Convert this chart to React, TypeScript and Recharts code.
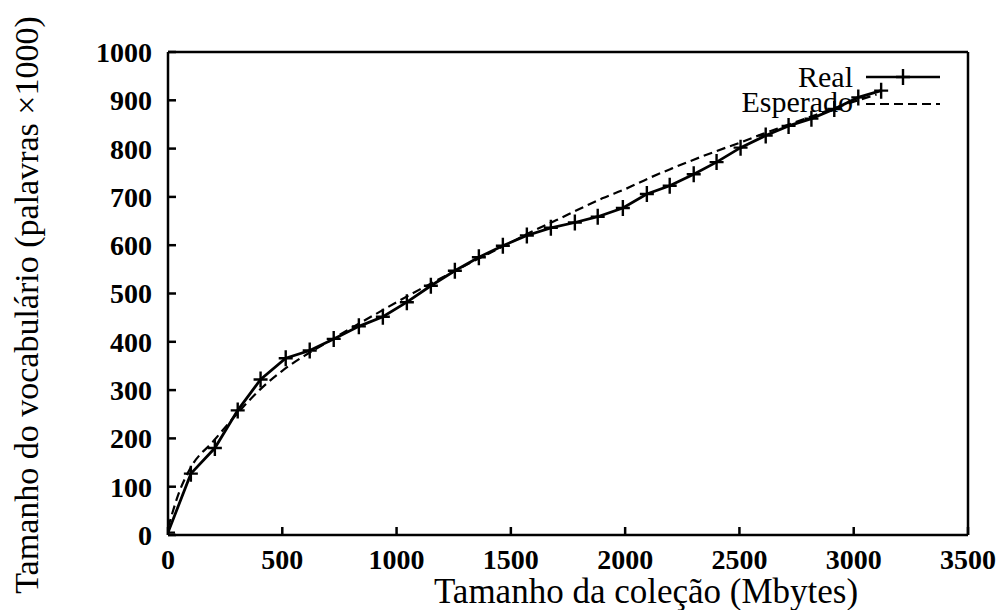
import React from 'react';
import { LineChart, Line, XAxis, YAxis, ReferenceLine, Customized } from 'recharts';

// tamanho da coleção (MB) x vocabulário (palavras x 1000)
const realSize = [0, 100, 205, 305, 405, 515, 620, 725, 835, 940, 1045, 1150, 1255, 1360, 1465, 1570, 1675, 1780, 1880, 1990, 2095, 2195, 2300, 2400, 2505, 2615, 2715, 2815, 2915, 3020, 3120];
const realVocab = [5, 127, 180, 258, 322, 366, 382, 406, 432, 452, 482, 516, 547, 575, 599, 620, 636, 647, 659, 677, 706, 723, 747, 772, 802, 827, 847, 862, 882, 906, 920];

const expectedSize = [0, 50, 100, 200, 300, 400, 500, 600, 700, 800, 900, 1000, 1100, 1200, 1300, 1400, 1500, 1600, 1700, 1800, 1900, 2000, 2100, 2200, 2300, 2400, 2500, 2600, 2700, 2800, 2900, 3000, 3100];
const expectedVocab = [15, 90, 140, 195, 250, 300, 340, 372, 400, 428, 455, 482, 508, 533, 558, 582, 606, 630, 652, 675, 697, 716, 738, 758, 777, 795, 812, 830, 847, 864, 881, 897, 912];

const xTicks = [0, 500, 1000, 1500, 2000, 2500, 3000, 3500];
const yTicks = [0, 100, 200, 300, 400, 500, 600, 700, 800, 900, 1000];

const realData = realSize.map((x, i) => ({ x, y: realVocab[i] }));
const expectedData = expectedSize.map((x, i) => ({ x, y: expectedVocab[i] }));

const FONT = 'Liberation Serif';
const INK = '#000';
const serif = (size: number) => ({ fontFamily: FONT, fontSize: size, fontWeight: 'normal' as const });

const PlusDot = (props: any) => {
  const { cx, cy, index } = props;
  if (cx == null || cy == null) return <g key={`p-${index}`} />;
  return (
    <path
      key={`p-${index}`}
      d={`M${cx - 7},${cy}H${cx + 7}M${cx},${cy - 8}V${cy + 8}`}
      stroke={INK}
      strokeWidth={2.4}
      fill="none"
    />
  );
};

const KeyBox = () => (
  <g>
    <text x={853} y={87} textAnchor="end" fontFamily={FONT} style={serif(30)} fill={INK}>Real</text>
    <line x1={866} y1={77} x2={940} y2={77} stroke={INK} strokeWidth={2.4} />
    <path d="M896,77H910M903,69V85" stroke={INK} strokeWidth={2.4} />
    <text x={853} y={112} textAnchor="end" fontFamily={FONT} style={serif(30)} fill={INK}>Esperado</text>
    <line x1={866} y1={104} x2={940} y2={104} stroke={INK} strokeWidth={2.2} strokeDasharray="9 5" />
  </g>
);

const XTitle = () => (
  <text x={646} y={603} textAnchor="middle" fontFamily={FONT} style={serif(35)} fill={INK}>
    Tamanho da coleção (Mbytes)
  </text>
);

const YTitle = () => (
  <text
    x={38}
    y={305}
    transform="rotate(-90, 38, 305)"
    textAnchor="middle"
    fontFamily={FONT}
    style={serif(34)}
    fill={INK}
  >
    Tamanho do vocabulário (palavras ×1000)
  </text>
);

export default function App() {
  const tickStyle = { fill: INK, fontSize: 28, fontWeight: 'bold' as const, style: { fontFamily: FONT } };
  return (
    <div style={{ position: 'absolute', left: 0, top: 0, width: 1001, height: 610, background: '#fff', fontFamily: FONT }}>
      <LineChart
        width={1001}
        height={610}
        margin={{ top: 52, right: 33, bottom: 0, left: 0 }}
        style={{ fontFamily: FONT }}
      >
        <XAxis
          type="number"
          dataKey="x"
          domain={[0, 3500]}
          ticks={xTicks}
          allowDataOverflow
          height={75}
          tickSize={-8}
          tickMargin={22}
          stroke={INK}
          strokeWidth={2.5}
          tick={tickStyle}
          label={<XTitle />}
        />
        <YAxis
          type="number"
          dataKey="y"
          domain={[0, 1000]}
          ticks={yTicks}
          allowDataOverflow
          width={168}
          tickSize={-8}
          tickMargin={24}
          stroke={INK}
          strokeWidth={2.5}
          tick={tickStyle}
          label={<YTitle />}
        />
        <ReferenceLine y={1000} stroke={INK} strokeWidth={2.5} />
        <ReferenceLine x={3500} stroke={INK} strokeWidth={2.5} />
        <Line
          data={expectedData}
          dataKey="y"
          type="monotone"
          stroke={INK}
          strokeWidth={2.2}
          strokeDasharray="9 5"
          dot={false}
          isAnimationActive={false}
        />
        <Line
          data={realData}
          dataKey="y"
          type="linear"
          stroke={INK}
          strokeWidth={2.8}
          dot={PlusDot}
          isAnimationActive={false}
        />
        <Customized component={KeyBox} />
      </LineChart>
    </div>
  );
}
